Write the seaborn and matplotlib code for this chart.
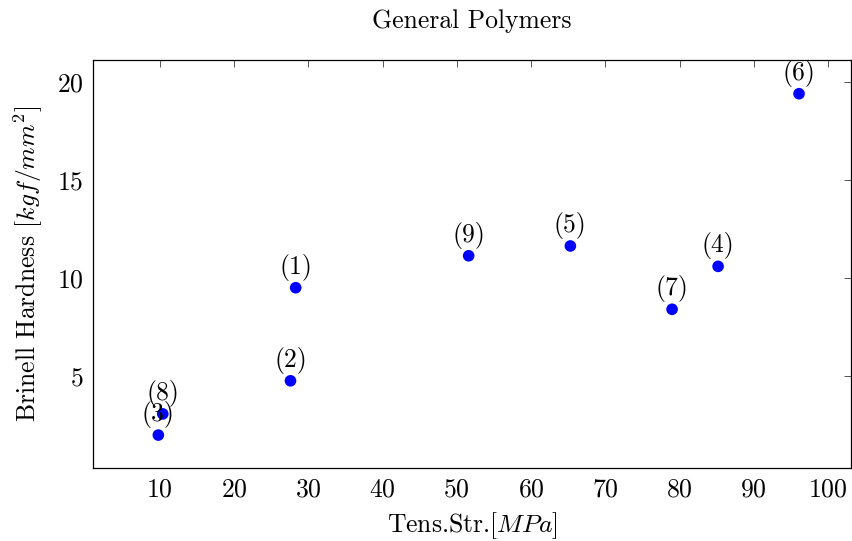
import matplotlib
matplotlib.use("Agg")
import matplotlib.pyplot as plt
import seaborn as sns
import pandas as pd

labels = ["(1)", "(2)", "(3)", "(4)", "(5)", "(6)", "(7)", "(8)", "(9)"]
tens_str = [28.3, 27.6, 9.8, 85.2, 65.3, 96.1, 79.0, 10.4, 51.6]
hardness = [9.49, 4.74, 1.97, 10.58, 11.62, 19.39, 8.39, 3.05, 11.12]

sns.set_theme(style="white")
plt.rcParams["font.family"] = ["cmr10", "DejaVu Serif"]
plt.rcParams["mathtext.fontset"] = "cm"
plt.rcParams["axes.unicode_minus"] = False
plt.rcParams["axes.formatter.use_mathtext"] = True

df = pd.DataFrame({"x": tens_str, "y": hardness, "lab": labels})

fig = plt.figure(figsize=(8.52, 5.41), dpi=100)
ax = fig.add_axes([93/852, 1-468.3/541, (851-93)/852, (468.3-60)/541])
sns.scatterplot(data=df, x="x", y="y", ax=ax, color="#0000ff", s=70,
                edgecolor="none", linewidth=0, zorder=3, clip_on=False)
for xv, yv, lb in zip(tens_str, hardness, labels):
    ax.annotate(lb, (xv, yv), xytext=(0, 5), textcoords="offset points",
                ha="center", va="bottom", fontsize=18.5, color="black")

ax.set_xlim(1.0, 103.1)
ax.set_ylim(0.275, 21.11)
ax.set_xticks([10, 20, 30, 40, 50, 60, 70, 80, 90, 100])
ax.set_yticks([5, 10, 15, 20])
ax.tick_params(direction="in", length=5, width=0.7, color="#555555",
               top=True, right=True, labelsize=18.5, labelcolor="black", pad=7)
for sp in ax.spines.values():
    sp.set_color("black")
    sp.set_linewidth(0.9)
ax.set_xlabel(r"Tens.Str.$[MPa]$", fontsize=18.5, labelpad=6, color="black")
ax.set_ylabel(r"Brinell Hardness $[kgf/mm^2]$", fontsize=18.5, labelpad=8, color="black")
ax.set_title("General Polymers", fontsize=18.5, pad=23, color="black")
fig.savefig("out.png", dpi=100)
